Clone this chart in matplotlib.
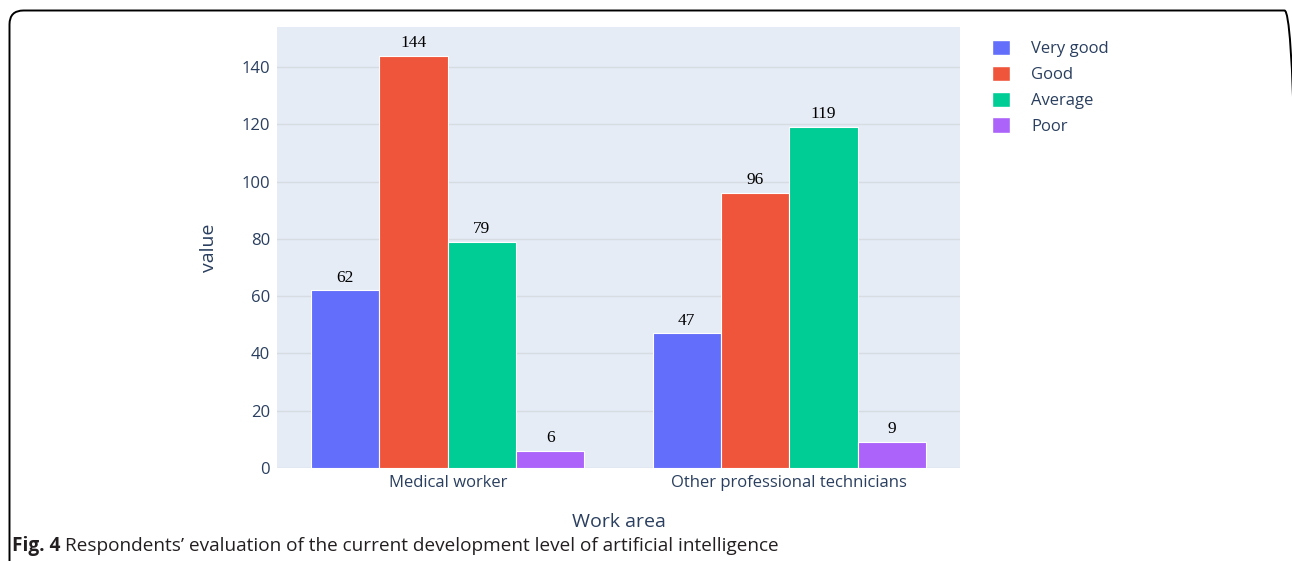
import matplotlib
matplotlib.use("Agg")
import matplotlib.pyplot as plt
import numpy as np
from matplotlib.patches import FancyBboxPatch, Patch
from matplotlib.transforms import IdentityTransform

categories = ["Medical worker", "Other professional technicians"]
series_names = ["Very good", "Good", "Average", "Poor"]
very_good = [62, 47]
good = [144, 96]
average = [79, 119]
poor = [6, 9]
colors = ["#636EFA", "#EF553B", "#00CC96", "#AB63FA"]
yticks = [0, 20, 40, 60, 80, 100, 120, 140]

W, H = 1292, 561
fig = plt.figure(figsize=(W / 100, H / 100), dpi=100)
fig.patch.set_facecolor("white")

ax = fig.add_axes([277 / W, 1 - 468 / H, (960 - 277) / W, (468 - 27) / H])
ax.set_facecolor("#E5ECF6")

x = np.arange(len(categories))
width = 0.2
data = [very_good, good, average, poor]
for i, (name, vals, c) in enumerate(zip(series_names, data, colors)):
    pos = x - 0.3 + i * width
    bars = ax.bar(pos, vals, width=width, color=c, edgecolor="white", linewidth=0.8,
                  label=name, zorder=3)
    for b, v in zip(bars, vals):
        ax.annotate(str(v), (b.get_x() + b.get_width() / 2, v), xytext=(0, 3.5),
                    textcoords="offset points", ha="center", va="bottom",
                    fontsize=12.5, family="Liberation Serif", color="black")

ax.set_xlim(-0.5, 1.5)
ax.set_ylim(0, 154)
ax.set_yticks(yticks)
ax.set_xticks(x)
ax.set_xticklabels(categories)
ax.grid(axis="y", color="#d7dbe2", linewidth=1, zorder=0)
ax.grid(axis="x", visible=False)
for s in ax.spines.values():
    s.set_visible(False)
ax.tick_params(axis="both", length=0, labelsize=12, labelcolor="#2a3f5f", pad=5)
for lbl in ax.get_xticklabels() + ax.get_yticklabels():
    lbl.set_family("Open Sans")
ax.set_xlabel("Work area", family="Open Sans", fontsize=14, color="#2a3f5f", labelpad=16)
ax.set_ylabel("value", family="Open Sans", fontsize=14, color="#2a3f5f", labelpad=17)

handles = [Patch(facecolor=c, edgecolor="white") for c in colors]
fig.legend(handles, series_names, loc="upper left", bbox_to_anchor=(977 / W, 1 - 25 / H),
           frameon=False, prop={"family": "Open Sans", "size": 12},
           handlelength=1.05, handleheight=1.05, handletextpad=1.3, labelspacing=0.5,
           labelcolor="#2a3f5f")

# frame
frame = FancyBboxPatch((9.5, -60), 1289, 550.5 + 60, boxstyle="round,pad=0,rounding_size=14",
                       transform=IdentityTransform(), facecolor="none", edgecolor="black",
                       linewidth=1.4)
fig.add_artist(frame)

# caption
t1 = fig.text(12 / W, 1 - 546 / H, "Fig. 4", fontsize=13.7, fontweight="bold",
              family="Open Sans", va="center", ha="left", color="#231f20")
fig.canvas.draw()
bb = t1.get_window_extent()
fig.text((bb.x1 + 5) / W, 1 - 546 / H,
         "Respondents\u2019 evaluation of the current development level of artificial intelligence",
         fontsize=13.7, family="Open Sans", va="center", ha="left", color="#231f20")

fig.savefig("out.png", dpi=100)
